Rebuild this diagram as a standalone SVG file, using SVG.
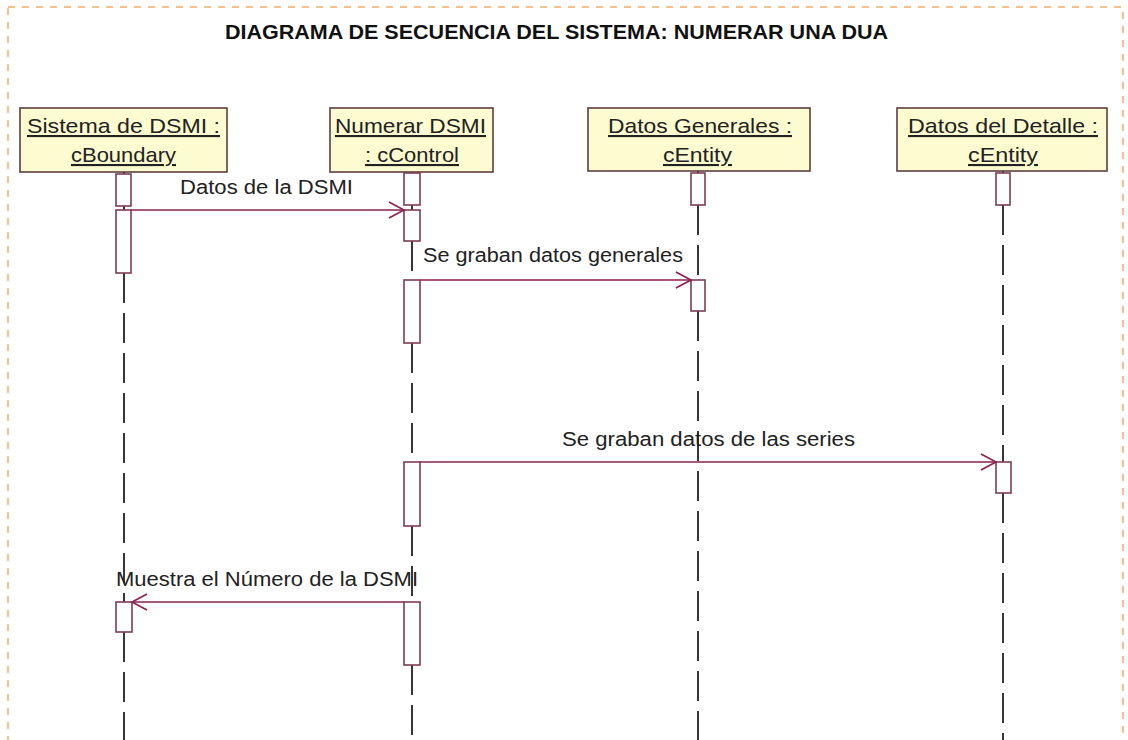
<svg xmlns="http://www.w3.org/2000/svg" width="1128" height="740" viewBox="0 0 1128 740">
<style>
.frame{fill:none;stroke:#f7c08a;stroke-width:2;stroke-dasharray:7 7}
.title{font-family:"Liberation Sans",Arial,sans-serif;font-weight:bold;font-size:20px;fill:#111}
.obj{fill:#fdfbd0;stroke:#5e3f3f;stroke-width:1.6}
.otext{font-family:"Liberation Sans",Arial,sans-serif;font-size:21px;fill:#222;text-decoration:underline}
.act{fill:#fff;stroke:#7d3c55;stroke-width:1.6}
.life{stroke:#222;stroke-width:1.8;stroke-dasharray:30 10;fill:none}
.stub{stroke:#222;stroke-width:1.8;fill:none}
.msg{stroke:#8c2050;stroke-width:1.6;fill:none}
.mlabel{font-family:"Liberation Sans",Arial,sans-serif;font-size:20px;fill:#222}
</style>
<defs>
<marker id="open" markerUnits="userSpaceOnUse" markerWidth="20" markerHeight="20" refX="16" refY="10" orient="auto">
<path d="M1,2 L16,10 L1,18" fill="none" stroke="#8c2050" stroke-width="1.6"/>
</marker>
</defs>
<rect width="1128" height="740" fill="#fff"/>
<rect class="frame" x="8" y="7" width="1115" height="800"/>
<text class="title" x="225" y="39" textLength="663" lengthAdjust="spacingAndGlyphs">DIAGRAMA DE SECUENCIA DEL SISTEMA: NUMERAR UNA DUA</text>

<g id="lifelines">
<path class="stub" d="M124,172 V174 M124,206 V210 M412,172 V173 M412,205 V210 M698,171 V173 M1003,171 V173"/>
<path class="life" d="M124,273 V602"/>
<path class="life" d="M124,632 V740"/>
<path class="life" d="M412,241 V280"/>
<path class="life" d="M412,343 V462"/>
<path class="life" d="M412,526 V602"/>
<path class="life" d="M412,665 V740"/>
<path class="life" d="M698,205 V280"/>
<path class="life" d="M698,311 V740"/>
<path class="life" d="M1003,205 V462"/>
<path class="life" d="M1003,493 V740"/>
</g>

<g id="node-sistema">
<rect class="obj" x="20" y="108" width="207" height="64"/>
<text class="otext" x="27" y="133" textLength="193" lengthAdjust="spacingAndGlyphs">Sistema de DSMI :</text>
<text class="otext" x="71" y="162" textLength="105" lengthAdjust="spacingAndGlyphs">cBoundary</text>
<rect class="act" x="116" y="174" width="15" height="32"/>
<rect class="act" x="116" y="210" width="15" height="63"/>
<rect class="act" x="116" y="602" width="16" height="30"/>
</g>

<g id="node-numerar">
<rect class="obj" x="330" y="108" width="163" height="64"/>
<text class="otext" x="335" y="133" textLength="151" lengthAdjust="spacingAndGlyphs">Numerar DSMI </text>
<text class="otext" x="365" y="162" textLength="94" lengthAdjust="spacingAndGlyphs">: cControl</text>
<rect class="act" x="404" y="173" width="16" height="32"/>
<rect class="act" x="404" y="210" width="16" height="31"/>
<rect class="act" x="404" y="280" width="16" height="63"/>
<rect class="act" x="404" y="462" width="16" height="64"/>
<rect class="act" x="404" y="602" width="16" height="63"/>
</g>

<g id="node-generales">
<rect class="obj" x="588" y="108" width="222" height="63"/>
<text class="otext" x="608" y="133" textLength="184" lengthAdjust="spacingAndGlyphs">Datos Generales :</text>
<text class="otext" x="663" y="162" textLength="69" lengthAdjust="spacingAndGlyphs">cEntity</text>
<rect class="act" x="691" y="173" width="14" height="32"/>
<rect class="act" x="691" y="280" width="14" height="31"/>
</g>

<g id="node-detalle">
<rect class="obj" x="897" y="108" width="210" height="63"/>
<text class="otext" x="908" y="133" textLength="190" lengthAdjust="spacingAndGlyphs">Datos del Detalle :</text>
<text class="otext" x="968" y="162" textLength="70" lengthAdjust="spacingAndGlyphs">cEntity</text>
<rect class="act" x="996" y="173" width="14" height="32"/>
<rect class="act" x="996" y="462" width="15" height="31"/>
</g>

<g id="connectors">
<line class="msg" x1="131" y1="210" x2="404" y2="210" marker-end="url(#open)"/>
<text class="mlabel" x="180" y="194" textLength="173" lengthAdjust="spacingAndGlyphs">Datos de la DSMI</text>
<line class="msg" x1="420" y1="280" x2="691" y2="280" marker-end="url(#open)"/>
<text class="mlabel" x="423" y="262" textLength="260" lengthAdjust="spacingAndGlyphs">Se graban datos generales</text>
<line class="msg" x1="420" y1="462" x2="996" y2="462" marker-end="url(#open)"/>
<text class="mlabel" x="562" y="446" textLength="293" lengthAdjust="spacingAndGlyphs">Se graban datos de las series</text>
<line class="msg" x1="404" y1="602" x2="132" y2="602" marker-end="url(#open)"/>
<text class="mlabel" x="116" y="586" textLength="302" lengthAdjust="spacingAndGlyphs">Muestra el Número de la DSMI</text>
</g>
</svg>
